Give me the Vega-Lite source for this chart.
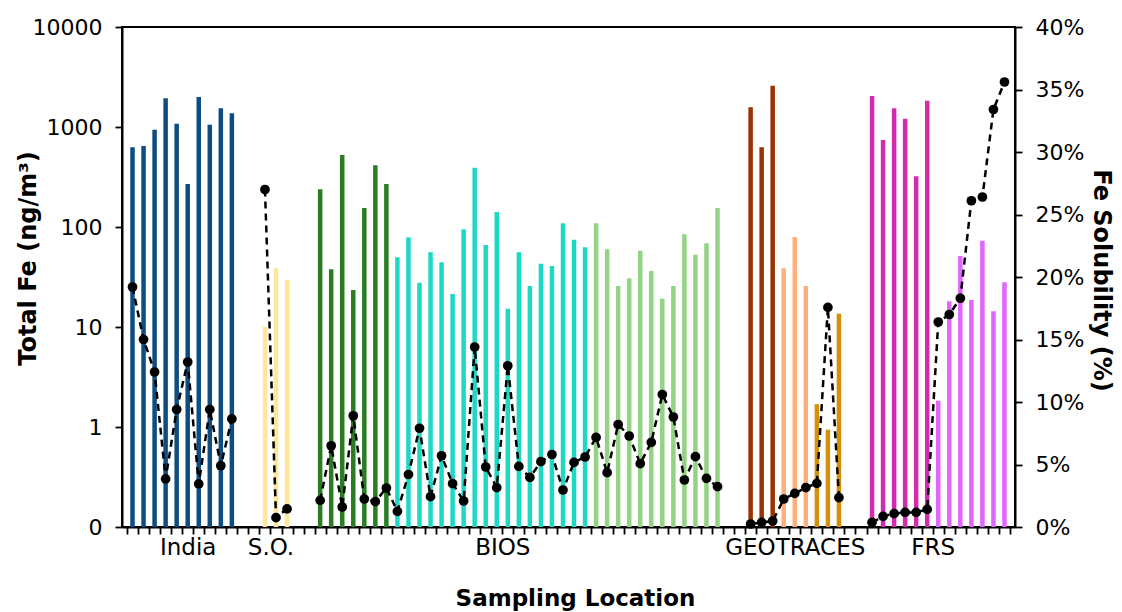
{
  "$schema": "https://vega.github.io/schema/vega-lite/v6.json",
  "width": 893,
  "height": 500,
  "autosize": {"type": "none"},
  "padding": {"left": 122, "top": 27, "right": 107, "bottom": 85},
  "background": "white",
  "config": {
    "font": "DejaVu Sans",
    "view": {"stroke": "black", "strokeWidth": 2},
    "axis": {
      "grid": false,
      "labelFont": "DejaVu Sans",
      "labelFontSize": 22,
      "labelColor": "black",
      "tickColor": "black",
      "tickWidth": 1.8,
      "tickSize": 7,
      "domainColor": "black",
      "domainWidth": 2,
      "titleFont": "DejaVu Sans",
      "titleFontSize": 24,
      "titleFontWeight": "bold",
      "titleColor": "black",
      "labelOverlap": false,
      "labelFlush": false,
      "labelBound": false
    }
  },
  "data": {
    "values": [
      {"pos": 0.5, "fe": 627, "sol": 19.2, "sub": "India", "grp": "India"},
      {"pos": 1.5, "fe": 646, "sol": 15.0, "sub": "India", "grp": "India"},
      {"pos": 2.5, "fe": 940, "sol": 12.4, "sub": "India", "grp": "India"},
      {"pos": 3.5, "fe": 1936, "sol": 3.85, "sub": "India", "grp": "India"},
      {"pos": 4.5, "fe": 1079, "sol": 9.4, "sub": "India", "grp": "India"},
      {"pos": 5.5, "fe": 269, "sol": 13.2, "sub": "India", "grp": "India"},
      {"pos": 6.5, "fe": 1995, "sol": 3.45, "sub": "India", "grp": "India"},
      {"pos": 7.5, "fe": 1054, "sol": 9.4, "sub": "India", "grp": "India"},
      {"pos": 8.5, "fe": 1538, "sol": 4.9, "sub": "India", "grp": "India"},
      {"pos": 9.5, "fe": 1371, "sol": 8.65, "sub": "India", "grp": "India"},
      {"pos": 12.5, "fe": 10, "sol": 27.0, "sub": "SO", "grp": "SO"},
      {"pos": 13.5, "fe": 38.6, "sol": 0.75, "sub": "SO", "grp": "SO"},
      {"pos": 14.5, "fe": 29.5, "sol": 1.45, "sub": "SO", "grp": "SO"},
      {"pos": 17.5, "fe": 238, "sol": 2.13, "sub": "BIOS1", "grp": "BIOS"},
      {"pos": 18.5, "fe": 37.8, "sol": 6.5, "sub": "BIOS1", "grp": "BIOS"},
      {"pos": 19.5, "fe": 525, "sol": 1.6, "sub": "BIOS1", "grp": "BIOS"},
      {"pos": 20.5, "fe": 23.4, "sol": 8.9, "sub": "BIOS1", "grp": "BIOS"},
      {"pos": 21.5, "fe": 155, "sol": 2.24, "sub": "BIOS1", "grp": "BIOS"},
      {"pos": 22.5, "fe": 414, "sol": 2.03, "sub": "BIOS1", "grp": "BIOS"},
      {"pos": 23.5, "fe": 269, "sol": 3.12, "sub": "BIOS1", "grp": "BIOS"},
      {"pos": 24.5, "fe": 49.8, "sol": 1.25, "sub": "BIOS2", "grp": "BIOS"},
      {"pos": 25.5, "fe": 78.9, "sol": 4.2, "sub": "BIOS2", "grp": "BIOS"},
      {"pos": 26.5, "fe": 27.7, "sol": 7.9, "sub": "BIOS2", "grp": "BIOS"},
      {"pos": 27.5, "fe": 55.8, "sol": 2.43, "sub": "BIOS2", "grp": "BIOS"},
      {"pos": 28.5, "fe": 44.4, "sol": 5.7, "sub": "BIOS2", "grp": "BIOS"},
      {"pos": 29.5, "fe": 21.4, "sol": 3.47, "sub": "BIOS2", "grp": "BIOS"},
      {"pos": 30.5, "fe": 94.8, "sol": 2.08, "sub": "BIOS2", "grp": "BIOS"},
      {"pos": 31.5, "fe": 392, "sol": 14.4, "sub": "BIOS2", "grp": "BIOS"},
      {"pos": 32.5, "fe": 66, "sol": 4.8, "sub": "BIOS2", "grp": "BIOS"},
      {"pos": 33.5, "fe": 141, "sol": 3.15, "sub": "BIOS2", "grp": "BIOS"},
      {"pos": 34.5, "fe": 15.2, "sol": 12.9, "sub": "BIOS2", "grp": "BIOS"},
      {"pos": 35.5, "fe": 55.8, "sol": 4.85, "sub": "BIOS2", "grp": "BIOS"},
      {"pos": 36.5, "fe": 25.7, "sol": 3.97, "sub": "BIOS2", "grp": "BIOS"},
      {"pos": 37.5, "fe": 43, "sol": 5.23, "sub": "BIOS2", "grp": "BIOS"},
      {"pos": 38.5, "fe": 40.7, "sol": 5.8, "sub": "BIOS2", "grp": "BIOS"},
      {"pos": 39.5, "fe": 109, "sol": 2.96, "sub": "BIOS2", "grp": "BIOS"},
      {"pos": 40.5, "fe": 74.7, "sol": 5.17, "sub": "BIOS2", "grp": "BIOS"},
      {"pos": 41.5, "fe": 62.6, "sol": 5.6, "sub": "BIOS2", "grp": "BIOS"},
      {"pos": 42.5, "fe": 109, "sol": 7.17, "sub": "BIOS3", "grp": "BIOS"},
      {"pos": 43.5, "fe": 59.8, "sol": 4.35, "sub": "BIOS3", "grp": "BIOS"},
      {"pos": 44.5, "fe": 25.7, "sol": 8.2, "sub": "BIOS3", "grp": "BIOS"},
      {"pos": 45.5, "fe": 30.7, "sol": 7.28, "sub": "BIOS3", "grp": "BIOS"},
      {"pos": 46.5, "fe": 57.9, "sol": 5.07, "sub": "BIOS3", "grp": "BIOS"},
      {"pos": 47.5, "fe": 36.3, "sol": 6.77, "sub": "BIOS3", "grp": "BIOS"},
      {"pos": 48.5, "fe": 19.2, "sol": 10.6, "sub": "BIOS3", "grp": "BIOS"},
      {"pos": 49.5, "fe": 25.7, "sol": 8.8, "sub": "BIOS3", "grp": "BIOS"},
      {"pos": 50.5, "fe": 84.5, "sol": 3.76, "sub": "BIOS3", "grp": "BIOS"},
      {"pos": 51.5, "fe": 52.8, "sol": 5.63, "sub": "BIOS3", "grp": "BIOS"},
      {"pos": 52.5, "fe": 68.7, "sol": 3.89, "sub": "BIOS3", "grp": "BIOS"},
      {"pos": 53.5, "fe": 155, "sol": 3.23, "sub": "BIOS3", "grp": "BIOS"},
      {"pos": 56.5, "fe": 1574, "sol": 0.24, "sub": "GEO1", "grp": "GEO"},
      {"pos": 57.5, "fe": 627, "sol": 0.37, "sub": "GEO1", "grp": "GEO"},
      {"pos": 58.5, "fe": 2588, "sol": 0.48, "sub": "GEO1", "grp": "GEO"},
      {"pos": 59.5, "fe": 38.6, "sol": 2.24, "sub": "GEO2", "grp": "GEO"},
      {"pos": 60.5, "fe": 79.4, "sol": 2.69, "sub": "GEO2", "grp": "GEO"},
      {"pos": 61.5, "fe": 25.7, "sol": 3.15, "sub": "GEO2", "grp": "GEO"},
      {"pos": 62.5, "fe": 1.69, "sol": 3.49, "sub": "GEO3", "grp": "GEO"},
      {"pos": 63.5, "fe": 0.94, "sol": 17.57, "sub": "GEO3", "grp": "GEO"},
      {"pos": 64.5, "fe": 13.6, "sol": 2.35, "sub": "GEO3", "grp": "GEO"},
      {"pos": 67.5, "fe": 2042, "sol": 0.37, "sub": "FRS1", "grp": "FRS"},
      {"pos": 68.5, "fe": 741, "sol": 0.85, "sub": "FRS1", "grp": "FRS"},
      {"pos": 69.5, "fe": 1538, "sol": 1.07, "sub": "FRS1", "grp": "FRS"},
      {"pos": 70.5, "fe": 1211, "sol": 1.17, "sub": "FRS1", "grp": "FRS"},
      {"pos": 71.5, "fe": 321, "sol": 1.17, "sub": "FRS1", "grp": "FRS"},
      {"pos": 72.5, "fe": 1834, "sol": 1.41, "sub": "FRS1", "grp": "FRS"},
      {"pos": 73.5, "fe": 1.83, "sol": 16.4, "sub": "FRS2", "grp": "FRS"},
      {"pos": 74.5, "fe": 18.1, "sol": 17.0, "sub": "FRS2", "grp": "FRS"},
      {"pos": 75.5, "fe": 51.3, "sol": 18.3, "sub": "FRS2", "grp": "FRS"},
      {"pos": 76.5, "fe": 18.6, "sol": 26.1, "sub": "FRS2", "grp": "FRS"},
      {"pos": 77.5, "fe": 73, "sol": 26.4, "sub": "FRS2", "grp": "FRS"},
      {"pos": 78.5, "fe": 14.4, "sol": 33.4, "sub": "FRS2", "grp": "FRS"},
      {"pos": 79.5, "fe": 28, "sol": 35.6, "sub": "FRS2", "grp": "FRS"}
    ]
  },
  "layer": [
    {
      "mark": {"type": "bar", "size": 4.5},
      "encoding": {
        "x": {
          "field": "pos",
          "type": "quantitative",
          "scale": {"domain": [0, 80], "nice": false, "zero": false},
          "axis": {
            "orient": "bottom",
            "values": [0,1,2,3,4,5,6,7,8,9,10,11,12,13,14,15,16,17,18,19,20,21,22,23,24,25,26,27,28,29,30,31,32,33,34,35,36,37,38,39,40,41,42,43,44,45,46,47,48,49,50,51,52,53,54,55,56,57,58,59,60,61,62,63,64,65,66,67,68,69,70,71,72,73,74,75,76,77,78,79,80],
            "labels": false,
            "title": null
          }
        },
        "y": {
          "field": "fe",
          "type": "quantitative",
          "scale": {"type": "log", "domain": [0.1, 10000], "nice": false},
          "axis": {
            "orient": "left",
            "values": [0.1, 1, 10, 100, 1000, 10000],
            "labelExpr": "datum.value < 0.5 ? '0' : format(datum.value, 'd')",
            "labelPadding": 13,
            "title": "Total Fe (ng/m³)",
            "titleX": -94,
            "titleY": 231,
            "titleAngle": -90,
            "titleAlign": "center",
            "titleBaseline": "middle"
          }
        },
        "y2": {"datum": 0.1},
        "color": {
          "field": "sub",
          "type": "nominal",
          "scale": {
            "domain": ["India", "SO", "BIOS1", "BIOS2", "BIOS3", "GEO1", "GEO2", "GEO3", "FRS1", "FRS2"],
            "range": ["#0F4C81", "#FFE699", "#2A7D22", "#1ED8C6", "#93D383", "#993300", "#FFAF7A", "#D4900A", "#D42AAE", "#E066FF"]
          },
          "legend": null
        }
      }
    },
    {
      "encoding": {
        "x": {
          "field": "pos",
          "type": "quantitative",
          "axis": {
            "orient": "bottom",
            "values": [5.5, 13, 34, 60.5, 73],
            "ticks": false,
            "domain": false,
            "labelFontSize": 23,
            "labelPadding": 9,
            "labelExpr": "datum.value == 5.5 ? 'India' : datum.value == 13 ? 'S.O.' : datum.value == 34 ? 'BIOS' : datum.value == 60.5 ? 'GEOTRACES' : 'FRS'",
            "title": "Sampling Location",
            "titleFontSize": 23,
            "titleX": 453,
            "titleY": 71,
            "titleAlign": "center",
            "titleBaseline": "middle"
          }
        },
        "y": {
          "field": "sol",
          "type": "quantitative",
          "scale": {"domain": [0, 40], "nice": false},
          "axis": {
            "orient": "right",
            "values": [0, 5, 10, 15, 20, 25, 30, 35, 40],
            "labelExpr": "datum.value + '%'",
            "labelPadding": 13,
            "title": "Fe Solubility (%)",
            "titleX": 85,
            "titleY": 253,
            "titleAngle": 90,
            "titleAlign": "center",
            "titleBaseline": "middle"
          }
        }
      },
      "layer": [
        {
          "mark": {"type": "line", "stroke": "black", "strokeDash": [7, 5], "strokeWidth": 2.5},
          "encoding": {"detail": {"field": "grp", "type": "nominal"}}
        },
        {
          "mark": {"type": "circle", "size": 95, "color": "black", "opacity": 1},
          "encoding": {}
        }
      ]
    }
  ],
  "resolve": {
    "scale": {"y": "independent"},
    "axis": {"x": "independent", "y": "independent"}
  }
}
